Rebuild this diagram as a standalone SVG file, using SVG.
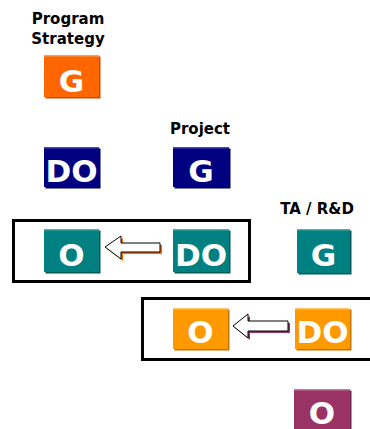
<svg xmlns="http://www.w3.org/2000/svg" width="370" height="429" viewBox="0 0 370 429">
<style>
.lbl{font-family:"DejaVu Sans","Liberation Sans",sans-serif;font-weight:bold;font-size:15px;fill:#000;text-anchor:middle}
.bt{font-family:"DejaVu Sans","Liberation Sans",sans-serif;font-weight:bold;font-size:31px;fill:#fff;text-anchor:middle}
.frame{fill:#fff;stroke:#000;stroke-width:3}
.arrow{fill:#fff;stroke:#000;stroke-width:1;stroke-linejoin:miter}
.hl{stroke-width:1.5}
</style>
<rect width="370" height="429" fill="#fff"/>

<g id="frame-row3"><rect class="frame" x="13.5" y="220.5" width="236" height="61"/></g>
<g id="frame-row4"><rect class="frame" x="142.5" y="298.5" width="240" height="61"/></g>

<g id="label-program-strategy">
<text class="lbl" x="68" y="24">Program</text>
<text class="lbl" x="68" y="44">Strategy</text>
</g>
<g id="label-project"><text class="lbl" x="200" y="134">Project</text></g>
<g id="label-ta-rd"><text class="lbl" x="317" y="214">TA / R&amp;D</text></g>

<g id="ps-g">
<rect x="45.5" y="56.5" width="55" height="42" fill="#c44e00"/>
<rect x="44" y="55" width="55" height="42" fill="#ff6600"/>
<line class="hl" x1="44" y1="55.7" x2="99" y2="55.7" stroke="#ff9955"/>
<text class="bt" x="71.5" y="92">G</text>
</g>

<g id="ps-do">
<rect x="45.5" y="148.5" width="55" height="40" fill="#00005a"/>
<rect x="44" y="147" width="55" height="40" fill="#000080"/>
<line class="hl" x1="44" y1="147.7" x2="99" y2="147.7" stroke="#4a4aa8"/>
<text class="bt" x="71.5" y="182">DO</text>
</g>

<g id="project-g">
<rect x="174.5" y="148.5" width="56" height="40" fill="#00005a"/>
<rect x="173" y="147" width="56" height="40" fill="#000080"/>
<line class="hl" x1="173" y1="147.7" x2="229" y2="147.7" stroke="#4a4aa8"/>
<text class="bt" x="201" y="182">G</text>
</g>

<g id="project-o">
<rect x="45.5" y="230.5" width="55" height="43" fill="#005a5a"/>
<rect x="44" y="229" width="55" height="43" fill="#008080"/>
<line class="hl" x1="44" y1="229.7" x2="99" y2="229.7" stroke="#55aaaa"/>
<text class="bt" x="71.5" y="266">O</text>
</g>

<g id="project-do">
<rect x="174.5" y="230.5" width="56" height="43" fill="#005a5a"/>
<rect x="173" y="229" width="56" height="43" fill="#008080"/>
<line class="hl" x1="173" y1="229.7" x2="229" y2="229.7" stroke="#55aaaa"/>
<text class="bt" x="201" y="266">DO</text>
</g>

<g id="ta-g">
<rect x="298.5" y="230.5" width="53" height="44" fill="#005a5a"/>
<rect x="297" y="229" width="53" height="44" fill="#008080"/>
<line class="hl" x1="297" y1="229.7" x2="350" y2="229.7" stroke="#55aaaa"/>
<text class="bt" x="323.5" y="266">G</text>
</g>

<g id="ta-o">
<rect x="174.5" y="309.5" width="55" height="41" fill="#c47500"/>
<rect x="173" y="308" width="55" height="41" fill="#ff9900"/>
<line class="hl" x1="173" y1="308.7" x2="228" y2="308.7" stroke="#ffc266"/>
<text class="bt" x="200.5" y="343">O</text>
</g>

<g id="ta-do">
<rect x="296.5" y="309.5" width="55" height="41" fill="#c47500"/>
<rect x="295" y="308" width="55" height="41" fill="#ff9900"/>
<line class="hl" x1="295" y1="308.7" x2="350" y2="308.7" stroke="#ffc266"/>
<text class="bt" x="322.5" y="343">DO</text>
</g>

<g id="bottom-o">
<rect x="295.5" y="390.5" width="56" height="40" fill="#6e2448"/>
<rect x="294" y="389" width="56" height="41" fill="#993366"/>
<line class="hl" x1="294" y1="389.7" x2="350" y2="389.7" stroke="#c27a9e"/>
<text class="bt" x="322" y="424">O</text>
</g>

<g id="connectors">
<path d="M107,249 L123,238 L123,245 L162,245 L162,254 L123,254 L123,261 Z" fill="#ff6600"/>
<path class="arrow" d="M105,247 L121,236 L121,243 L160,243 L160,252 L121,252 L121,259 Z"/>
<path d="M235,328 L250,316 L250,323 L290,323 L290,333 L250,333 L250,340 Z" fill="#993366"/>
<path class="arrow" d="M233,326 L248,314 L248,321 L288,321 L288,331 L248,331 L248,338 Z"/>
</g>
</svg>
